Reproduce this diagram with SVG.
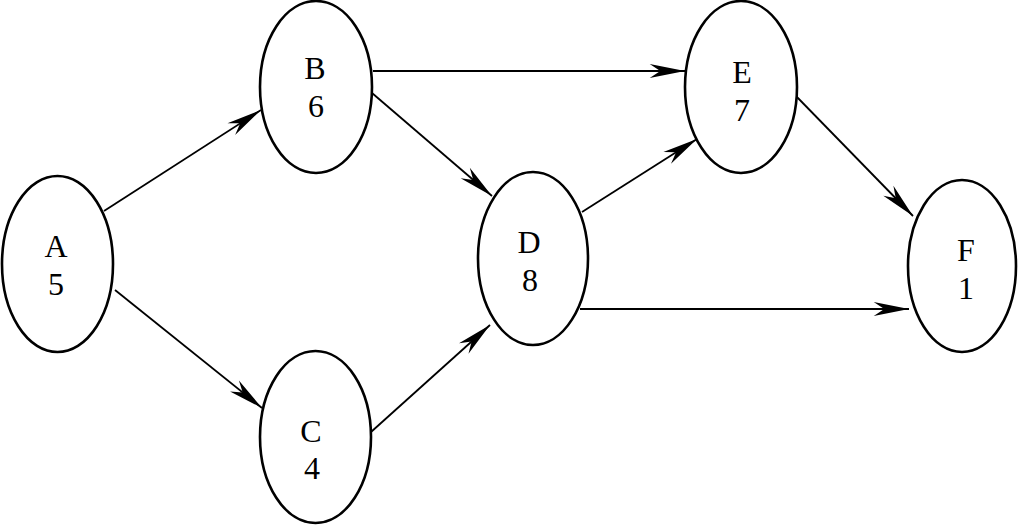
<svg xmlns="http://www.w3.org/2000/svg" width="1018" height="527" viewBox="0 0 1018 527">
<style>
.node ellipse{fill:#fff;stroke:#000;stroke-width:2.6}
.node text{font-family:"Liberation Serif","Times New Roman",serif;font-size:32px;fill:#000;text-anchor:middle}
.edges line{stroke:#000;stroke-width:1.8;marker-end:url(#arr)}
</style>
<defs>
<marker id="arr" markerUnits="userSpaceOnUse" markerWidth="40" markerHeight="20" viewBox="-32 -8 34 16" refX="0" refY="0" orient="auto">
<path d="M0,0 L-30,-6 L-21,0 L-30,6 Z" fill="#000"/>
</marker>
</defs>
<rect width="1018" height="527" fill="#fff"/>
<g class="edges">
<line x1="104" y1="211" x2="261" y2="110"/>
<line x1="115" y1="290" x2="262" y2="408"/>
<line x1="373" y1="71" x2="685" y2="71"/>
<line x1="372" y1="93" x2="492" y2="196"/>
<line x1="371" y1="432" x2="490" y2="325"/>
<line x1="582" y1="212" x2="697" y2="139"/>
<line x1="580" y1="309" x2="909" y2="309"/>
<line x1="795" y1="95" x2="913" y2="216"/>
</g>
<g id="A" class="node"><ellipse cx="57.5" cy="264" rx="55.5" ry="88"/><text x="56" y="257">A</text><text x="56" y="295">5</text></g>
<g id="B" class="node"><ellipse cx="316" cy="87" rx="56" ry="86"/><text x="315" y="79">B</text><text x="316" y="117">6</text></g>
<g id="C" class="node"><ellipse cx="315.5" cy="437" rx="55.5" ry="86"/><text x="311" y="442">C</text><text x="312" y="479">4</text></g>
<g id="D" class="node"><ellipse cx="533" cy="258.5" rx="55" ry="86.5"/><text x="529" y="253">D</text><text x="530" y="291">8</text></g>
<g id="E" class="node"><ellipse cx="741" cy="87" rx="56" ry="86"/><text x="742" y="83">E</text><text x="742" y="121">7</text></g>
<g id="F" class="node"><ellipse cx="962" cy="266" rx="54" ry="86"/><text x="966" y="261">F</text><text x="966" y="299">1</text></g>
</svg>
